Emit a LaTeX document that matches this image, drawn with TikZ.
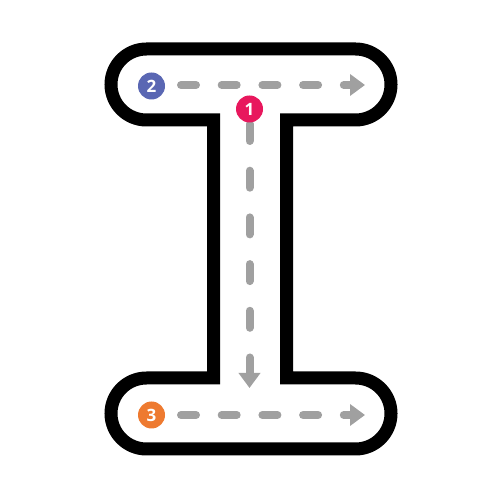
\documentclass[tikz,border=0pt]{standalone}
\usepackage{fontspec}
\setmainfont{Open Sans}
\usetikzlibrary{arrows.meta}
\definecolor{badgered}{HTML}{E8175D}
\definecolor{badgeblue}{HTML}{5A67B3}
\definecolor{badgeorange}{HTML}{EE7A30}
\definecolor{pathgray}{HTML}{A0A0A0}
\tikzset{
  outline/.style={line width=13pt, draw=black, line join=miter},
  hdash/.style={draw=pathgray, line width=8pt, line cap=round, dash pattern=on 15pt off 25.7pt,
    -{Triangle[length=15pt,width=21pt]}},
  vdash/.style={draw=pathgray, line width=8pt, line cap=round, dash pattern=on 17pt off 29.7pt,
    -{Triangle[length=15pt,width=21pt]}},
  badge/.style={circle, fill=#1, minimum size=27pt, inner sep=0pt, text=white,
    font=\bfseries\fontsize{17}{17}\selectfont}
}
\begin{document}
\begin{tikzpicture}[x=1pt,y=1pt]
\useasboundingbox (0,0) rectangle (500,500);
% I-shaped outline
\draw[outline] (213.5,380) -- (146.5,380) arc[start angle=270, end angle=90, radius=35.5]
  -- (355.5,451) arc[start angle=90, end angle=-90, radius=35.5]
  -- (286.5,380) -- (286.5,122) -- (355.5,122)
  arc[start angle=90, end angle=-90, radius=35.5]
  -- (146.5,51) arc[start angle=270, end angle=90, radius=35.5]
  -- (213.5,122) -- cycle;
% path coordinates
\coordinate (s2) at (181,415);
\coordinate (e2) at (365,415);
\coordinate (s1) at (249.5,376);
\coordinate (e1) at (249.5,112);
\coordinate (s3) at (181,85);
\coordinate (e3) at (365,85);
\draw[hdash] (s2) -- (e2);
\draw[vdash] (s1) -- (e1);
\draw[hdash] (s3) -- (e3);
% badges
\node[badge=badgered] (n1) at (249.5,391) {1};
\node[badge=badgeblue] (n2) at (151.5,414) {2};
\node[badge=badgeorange] (n3) at (151.5,85) {3};
\end{tikzpicture}
\end{document}
